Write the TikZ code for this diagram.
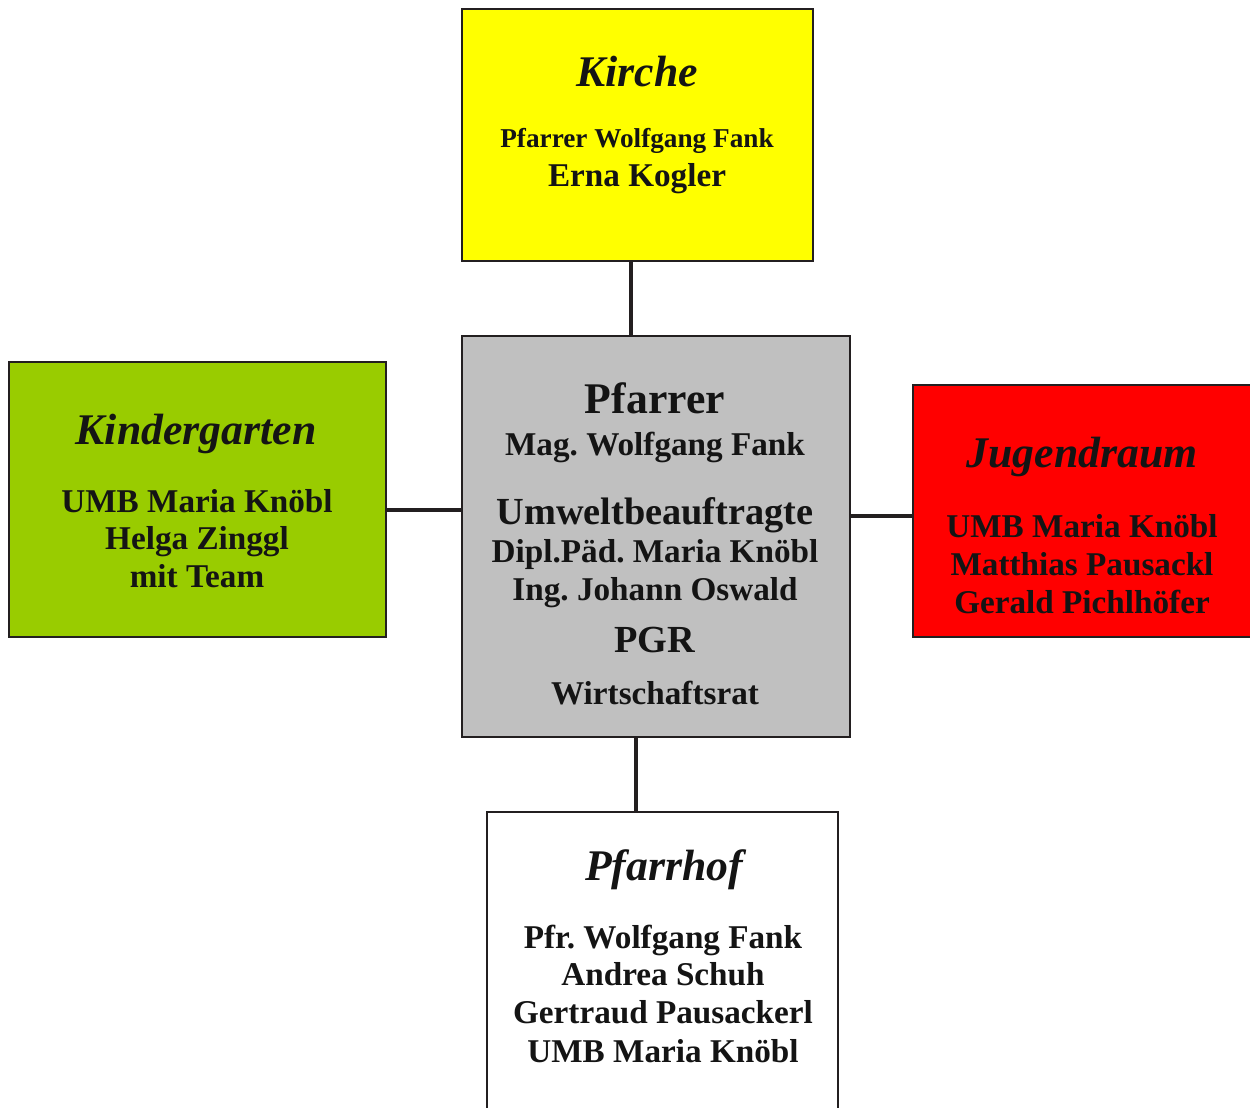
\documentclass[tikz,border=0pt]{standalone}
\usepackage{fontspec}
\setmainfont{Liberation Serif}
\frenchspacing
\definecolor{boxyellow}{HTML}{FFFF00}
\definecolor{boxgray}{HTML}{C0C0C0}
\definecolor{boxgreen}{HTML}{99CC00}
\definecolor{boxred}{HTML}{FF0000}
\definecolor{linedark}{HTML}{231F20}
\definecolor{textdark}{HTML}{141414}
\begin{document}
\begin{tikzpicture}[x=0.02cm,y=-0.02cm,
  box/.style={draw=linedark, line width=1.1pt, rectangle, inner sep=0pt, outer sep=0pt},
  conn/.style={draw=linedark, line width=2.3pt},
  txt/.style={anchor=base, inner sep=0pt, text=textdark, font=\bfseries},
  ttl/.style={txt, font=\bfseries\itshape\fontsize{24.9}{28}\selectfont},
  big/.style={txt, font=\bfseries\fontsize{21.8}{25}\selectfont},
  nrm/.style={txt, font=\bfseries\fontsize{18.9}{22}\selectfont},
  sml/.style={txt, font=\bfseries\fontsize{15.5}{18}\selectfont}]
\clip (0,0) rectangle (1250,1108);
\fill[white] (0,0) rectangle (1250,1108);
% boxes
\node[box, fill=boxyellow, minimum width=7.02cm, minimum height=5.04cm] (kirche) at (637.5,135) {};
\node[box, fill=boxgray, minimum width=7.76cm, minimum height=8.02cm] (center) at (656,536.5) {};
\node[box, fill=boxgreen, minimum width=7.54cm, minimum height=5.5cm] (kinder) at (197.5,499.5) {};
\node[box, fill=boxred, minimum width=6.84cm, minimum height=5.04cm] (jugend) at (1084,511) {};
\node[box, fill=white, minimum width=7.02cm, minimum height=6.06cm] (hof) at (662.5,963.5) {};
% connectors
\coordinate (k1) at ([xshift=-0.13cm]kirche.south);
\draw[conn] (k1) -- (k1 |- center.north);
\coordinate (g1) at ([yshift=-0.21cm]kinder.east);
\draw[conn] (g1) -- (g1 -| center.west);
\coordinate (c1) at ([yshift=0.41cm]center.east);
\draw[conn] (c1) -- (c1 -| jugend.west);
\coordinate (c2) at ([xshift=-0.4cm]center.south);
\draw[conn] (c2) -- (c2 |- hof.north);
% Kirche
\node[ttl] (t1) at (637,87) {Kirche};
\node[sml] (t1a) at (637,148) {Pfarrer Wolfgang Fank};
\node[nrm] (t1b) at (637,187) {Erna Kogler};
% Center
\node[ttl, font=\bfseries\fontsize{24.9}{28}\selectfont] (t2) at (655,413) {Pfarrer};
\node[nrm] (t2a) at (655,455) {Mag. Wolfgang Fank};
\node[big] (t2b) at (655,524) {Umweltbeauftragte};
\node[nrm] (t2c) at (655,562) {Dipl.Päd. Maria Knöbl};
\node[nrm] (t2d) at (655,600) {Ing. Johann Oswald};
\node[big] (t2e) at (655,652) {PGR};
\node[nrm] (t2f) at (655,704) {Wirtschaftsrat};
% Kindergarten
\node[ttl] (t3) at (196,444) {Kindergarten};
\node[nrm] (t3a) at (197,512) {UMB Maria Knöbl};
\node[nrm] (t3b) at (197,549) {Helga Zinggl};
\node[nrm] (t3c) at (197,587) {mit Team};
% Jugendraum
\node[ttl] (t4) at (1082,467) {Jugendraum};
\node[nrm] (t4a) at (1082,537) {UMB Maria Knöbl};
\node[nrm] (t4b) at (1082,575) {Matthias Pausackl};
\node[nrm] (t4c) at (1082,613) {Gerald Pichlhöfer};
% Pfarrhof
\node[ttl] (t5) at (664,880) {Pfarrhof};
\node[nrm] (t5a) at (663,948) {Pfr. Wolfgang Fank};
\node[nrm] (t5b) at (663,985) {Andrea Schuh};
\node[nrm] (t5c) at (663,1023) {Gertraud Pausackerl};
\node[nrm] (t5d) at (663,1062) {UMB Maria Knöbl};
\end{tikzpicture}
\end{document}
